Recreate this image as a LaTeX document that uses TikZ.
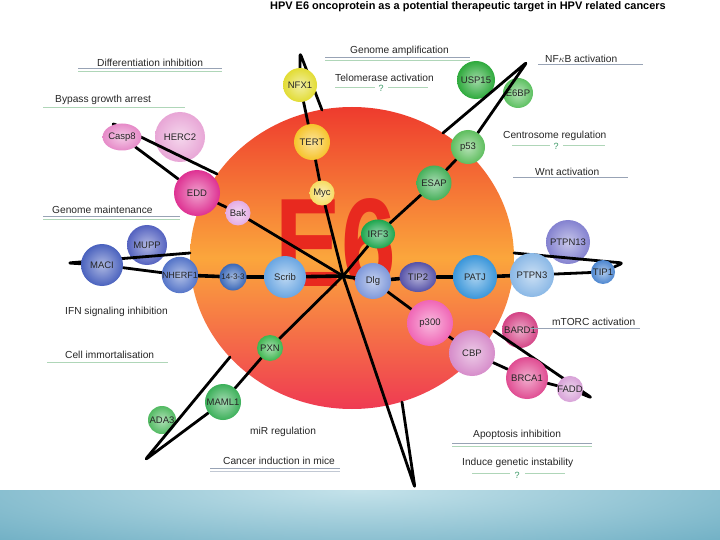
\documentclass[tikz,border=0pt]{standalone}
\usepackage{fontspec}
\usepackage{graphicx}
\setmainfont{Liberation Sans}
\usetikzlibrary{shapes.geometric}
\pgfdeclarelayer{back}
\pgfdeclarelayer{disc}
\pgfdeclarelayer{lines}
\pgfdeclarelayer{front}
\pgfsetlayers{back,disc,lines,main,front}
\definecolor{cTop}{HTML}{EE3B2E}
\definecolor{cMid}{HTML}{FBA63C}
\definecolor{cBot}{HTML}{EF3A52}
\definecolor{eRed}{HTML}{E8291F}
\definecolor{bandBase}{HTML}{6FAFC4}
\definecolor{bandLight}{HTML}{C4E2EA}
\definecolor{ulGray}{HTML}{98A3B5}
\definecolor{ulGreen}{HTML}{AFD6B8}
\definecolor{qGreen}{HTML}{3E9A68}
% node colours
\definecolor{kNFX}{HTML}{E2DC34}
\definecolor{kTERT}{HTML}{F6C42C}
\definecolor{kMyc}{HTML}{F6DC62}
\definecolor{kUSP}{HTML}{2EAA3C}
\definecolor{kEBP}{HTML}{5CC060}
\definecolor{kp53}{HTML}{5EBE5E}
\definecolor{kESAP}{HTML}{46B05A}
\definecolor{kIRF}{HTML}{1EA64E}
\definecolor{kPXN}{HTML}{3EB650}
\definecolor{kMAML}{HTML}{3CB05A}
\definecolor{kADA}{HTML}{52BA62}
\definecolor{kCasp}{HTML}{E68AC8}
\definecolor{kHERC}{HTML}{E8A6D6}
\definecolor{kEDD}{HTML}{DE3192}
\definecolor{kBak}{HTML}{E4ACE4}
\definecolor{kMACI}{HTML}{4A62BE}
\definecolor{kMUPP}{HTML}{5462C0}
\definecolor{kNHE}{HTML}{5474C8}
\definecolor{kFT}{HTML}{3A68B8}
\definecolor{kScrib}{HTML}{6AA6E2}
\definecolor{kDlg}{HTML}{7E98DA}
\definecolor{kTIPt}{HTML}{5652A8}
\definecolor{kPATJ}{HTML}{3A96DA}
\definecolor{kPTPt}{HTML}{8AB8E6}
\definecolor{kPTPo}{HTML}{8482D0}
\definecolor{kTIPo}{HTML}{4C86D0}
\definecolor{kp300}{HTML}{F066B6}
\definecolor{kCBP}{HTML}{D68CCA}
\definecolor{kBARD}{HTML}{D44486}
\definecolor{kBRCA}{HTML}{E04C92}
\definecolor{kFADD}{HTML}{D8A2D8}
\newcommand\ndfont{\fontsize{9.5}{10}\selectfont}
\begin{document}
\begin{tikzpicture}[x=1pt,y=-1pt,
  ball/.style={circle, inner sep=0pt, inner color=#1!45!white, outer color=#1, text=black!85, font=\ndfont},
  oball/.style={ellipse, inner sep=0pt, inner color=#1!45!white, outer color=#1, text=black!85, font=\ndfont},
  lbl/.style={anchor=west, inner sep=0pt, text=black!85, font=\fontsize{10.2}{12}\selectfont},
  ulg/.style={draw=ulGray, line width=0.9pt},
  ulgr/.style={draw=ulGreen, line width=0.9pt},
  qm/.style={inner sep=0pt, text=qGreen, font=\fontsize{9}{10}\selectfont},
  link/.style={draw=black, line width=2.8pt, line cap=round, line join=round, rounded corners=3pt},
]
\useasboundingbox (0,0) rectangle (720,540);
\begin{pgfonlayer}{back}
  \fill[white] (0,0) rectangle (720,540);
  \fill[bandBase] (0,490) rectangle (720,540);
  \begin{scope}
    \clip (0,490) rectangle (720,540);
    \begin{scope}[y=1pt]
      \shade[inner color=bandLight, outer color=bandBase] (360,-490) ellipse [x radius=520pt, y radius=75pt];
    \end{scope}
  \end{scope}
\end{pgfonlayer}

% title
\node[anchor=west, inner sep=0pt, font=\bfseries\fontsize{10.95}{12}\selectfont] (title) at (270,7)
  {HPV E6 oncoprotein as a potential therapeutic target in HPV related cancers};

% labels
\node[lbl] (lDiff) at (97,63) {Differentiation inhibition};
\draw[ulg] (78,68) -- (222,68); \draw[ulgr] (78,71) -- (222,71);
\node[lbl] (lBypass) at (55,100) {Bypass growth arrest};
\draw[ulgr] (43,107) -- (185,107);
\node[lbl] (lGenM) at (52,210) {Genome maintenance};
\draw[ulg] (43,216) -- (180,216); \draw[ulgr] (43,219) -- (180,219);
\node[lbl] (lIFN) at (65,312) {IFN signaling inhibition};
\node[lbl] (lCell) at (65,355) {Cell immortalisation};
\draw[ulgr] (47,362) -- (168,362);
\node[lbl] (lmiR) at (250,432) {miR regulation};
\node[lbl] (lCancer) at (223,461) {Cancer induction in mice};
\draw[ulg] (210,468) -- (340,468); \draw[draw=ulGray!60] (210,471) -- (340,471);
\node[lbl] (lGenA) at (350,51) {Genome amplification};
\draw[ulg] (325,57) -- (470,57); \draw[ulgr] (325,60) -- (470,60);
\node[lbl] (lTelo) at (335,78) {Telomerase activation};
\draw[ulgr] (335,87) -- (375,87); \node[qm] (q1) at (381,88) {?}; \draw[ulgr] (388,87) -- (428,87);
\node[lbl] (lNFkB) at (545,59) {NF$\kappa$B activation};
\draw[ulg] (538,64) -- (643,64);
\node[lbl] (lCentro) at (503,136) {Centrosome regulation};
\draw[ulgr] (512,145) -- (550,145); \node[qm] (q2) at (556,146) {?}; \draw[ulgr] (563,145) -- (605,145);
\node[lbl] (lWnt) at (535,172) {Wnt activation};
\draw[ulg] (513,177) -- (628,177);
\node[lbl] (lmTORC) at (552,322) {mTORC activation};
\draw[ulg] (530,328) -- (640,328);
\node[lbl] (lApop) at (473,435) {Apoptosis inhibition};
\draw[ulg] (452,443) -- (592,443); \draw[ulgr] (452,446) -- (592,446);
\node[lbl] (lInduce) at (462,463) {Induce genetic instability};
\draw[ulgr] (472,473) -- (510,473); \node[qm] (q3) at (517,475) {?}; \draw[ulgr] (525,473) -- (565,473);

% central disc and E6
\begin{pgfonlayer}{disc}
  \begin{scope}[y=1pt]
    \shade[top color=cTop, bottom color=cBot, middle color=cMid] (352,-258) ellipse [x radius=162pt, y radius=151pt];
  \end{scope}
  \node[text=eRed, inner sep=0pt, font=\bfseries\fontsize{126}{126}\selectfont] (E6) at (336,243) {\scalebox{0.78}[1]{E6}};
  % nodes that lines pass over
  \node[ball=kHERC, minimum size=50pt] (HERC2) at (180,137) {HERC2};
  \node[ball=kMUPP, minimum size=40pt] (MUPP) at (147,245) {MUPP};
  \node[ball=kPTPo, minimum size=44pt] (PTPN13) at (568,242) {PTPN13};
  \node[ball=kUSP, minimum size=38pt] (USP15) at (476,80) {USP15};
  \node[ball=kEBP, minimum size=30pt] (E6BP) at (518,93) {E6BP};
  \node[ball=kADA, minimum size=28pt] (ADA3) at (162,420) {ADA3};
  \node[ball=kBARD, minimum size=36pt] (BARD1) at (520,330) {BARD1};
\end{pgfonlayer}

% main nodes
\node[ball=kNFX, minimum size=34pt] (NFX1) at (300,85) {NFX1};
\node[ball=kTERT, minimum size=36pt] (TERT) at (312,142) {TERT};
\node[ball=kMyc, minimum size=25pt] (Myc) at (322,193) {Myc};
\node[ball=kp53, minimum size=34pt] (p53) at (468,147) {p53};
\node[ball=kESAP, minimum size=35pt] (ESAP) at (434,183) {ESAP};
\node[oball=kIRF, minimum width=34pt, minimum height=29pt] (IRF3) at (378,234) {IRF3};
\node[oball=kCasp, minimum width=32pt, minimum height=27pt] (Casp8) at (122,137) {Casp8};
\node[ball=kEDD, minimum size=46pt] (EDD) at (197,193) {EDD};
\node[ball=kBak, minimum size=25pt] (Bak) at (238,213) {Bak};
\node[ball=kMACI, minimum size=42pt] (MACI) at (102,265) {MACI};
\node[ball=kNHE, minimum size=35pt, font=\fontsize{9}{10}\selectfont] (NHERF1) at (180,275) {NHERF1};
\node[ball=kFT, minimum size=27pt, font=\fontsize{8}{9}\selectfont] (FTT) at (233,277) {14-3-3};
\node[ball=kScrib, minimum size=42pt] (Scrib) at (285,277) {Scrib};
\node[ball=kDlg, minimum size=36pt] (Dlg) at (373,281) {Dlg};
\node[oball=kTIPt, minimum width=37pt, minimum height=30pt] (TIP2) at (418,277) {TIP2};
\node[ball=kPATJ, minimum size=44pt] (PATJ) at (475,277) {PATJ};
\node[ball=kPTPt, minimum size=44pt] (PTPN3) at (532,275) {PTPN3};
\node[ball=kTIPo, minimum size=24pt] (TIP1) at (603,272) {TIP1};
\node[ball=kp300, minimum size=46pt] (p300) at (430,323) {p300};
\node[ball=kCBP, minimum size=46pt] (CBP) at (472,353) {CBP};
\node[ball=kBRCA, minimum size=42pt] (BRCA1) at (527,378) {BRCA1};
\node[ball=kFADD, minimum size=26pt] (FADD) at (570,389) {FADD};
\node[ball=kPXN, minimum size=26pt] (PXN) at (270,348) {PXN};
\node[ball=kMAML, minimum size=36pt] (MAML1) at (223,402) {MAML1};

% free ends
\coordinate (hub) at (343,276);
\coordinate (tipN) at (300,53);  \coordinate (edgeN) at (322,110);
\coordinate (tipU) at (527,62);  \coordinate (edgeU) at (443,133);
\coordinate (tipC) at (112,123); \coordinate (edgeC) at (217,174);
\coordinate (tipA) at (145,460); \coordinate (edgeA) at (230,357);
\coordinate (tipF) at (592,398); \coordinate (edgeF) at (494,331);
\coordinate (tipB) at (415,488); \coordinate (edgeB) at (402,402);
\coordinate (tipT) at (623,263); \coordinate (edgeT) at (514,253);
\coordinate (tipM) at (68,263);  \coordinate (edgeM) at (190,253);

\begin{pgfonlayer}{lines}
  \draw[link] (hub) -- (Myc) -- (TERT) -- (NFX1) -- (tipN) -- (edgeN);
  \draw[link] (hub) -- (IRF3) -- (ESAP) -- (p53) -- (tipU) -- (edgeU);
  \draw[link] (hub) -- (Bak) -- (EDD) -- (Casp8) -- (tipC) -- (edgeC);
  \draw[link] (hub) -- (PXN) -- (MAML1) -- (tipA) -- (edgeA);
  \draw[link] (Dlg) -- (p300) -- (CBP) -- (BRCA1) -- (FADD) -- (tipF) -- (edgeF);
  \draw[link] (hub) -- (tipB) -- (edgeB);
  \draw[link, line width=3.6pt] (NHERF1) -- (FTT) -- (Scrib) -- (hub) -- (Dlg) -- (TIP2) -- (PATJ) -- (PTPN3);
  \draw[link] (edgeM) -- (tipM) -- (MACI) -- (NHERF1);
  \draw[link] (PTPN3) -- (TIP1) -- (tipT) -- (edgeT);
\end{pgfonlayer}
\end{tikzpicture}
\end{document}
